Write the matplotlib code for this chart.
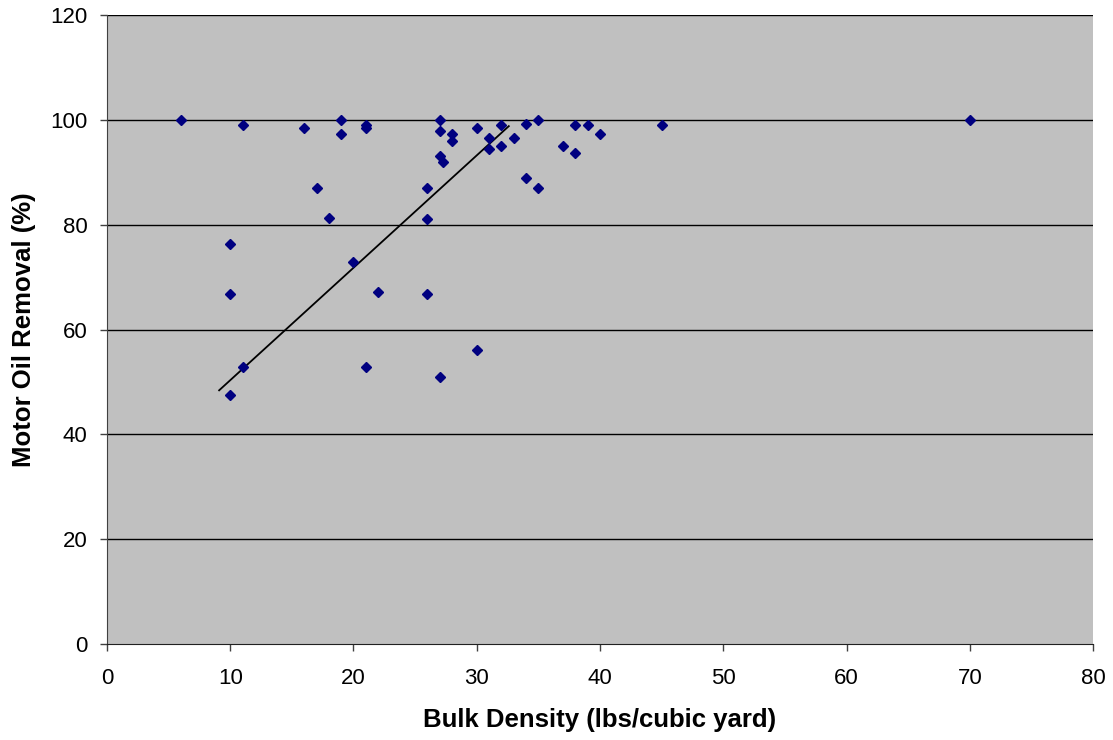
import matplotlib
matplotlib.use("Agg")
import matplotlib.pyplot as plt

# bulk density (lbs/cubic yard) vs motor oil removal (%)
density = [6, 10, 10, 10, 11, 11, 16, 17, 18, 19, 19, 20, 21, 21, 21, 22,
           26, 26, 26, 27, 27, 27, 27.3, 27, 28, 28, 30, 30, 31, 31, 32, 32,
           33, 34, 34, 35, 35, 37, 38, 38, 39, 40, 45, 70]
removal = [100, 76.4, 66.7, 47.5, 99.0, 52.9, 98.4, 87.0, 81.3, 100, 97.3, 72.9, 99.0, 98.4, 52.8, 67.2,
           87.0, 81.0, 66.7, 100, 97.8, 93.1, 92.0, 51.0, 97.3, 96.0, 98.5, 56.1, 96.5, 94.5, 99.0, 95.0,
           96.5, 99.2, 89.0, 100, 87.0, 95.0, 99.0, 93.6, 99.0, 97.3, 99.0, 100]

# trend line end points as drawn
trend_x = [9.1, 32.6]
trend_y = [48.4, 98.8]

x_ticks = list(range(0, 81, 10))
y_ticks = list(range(0, 121, 20))

plt.rcParams["font.family"] = ["Liberation Sans", "DejaVu Sans"]

fig = plt.figure(figsize=(11.13, 7.40), dpi=100)
ax = fig.add_axes([0.0961, 0.1297, 0.886, 0.850])
ax.set_facecolor("#C0C0C0")

for yv in y_ticks[1:]:
    ax.axhline(yv, color="#000000", linewidth=1.0, zorder=1)

ax.plot(trend_x, trend_y, color="black", linewidth=1.3, zorder=2)
ax.plot(density, removal, linestyle="none", marker="D", markersize=4.7,
        color="#000080", zorder=3)

ax.set_xlim(0, 80)
ax.set_ylim(0, 120)
ax.set_xticks(x_ticks)
ax.set_yticks(y_ticks)
ax.tick_params(direction="out", length=5, width=1, color="#404040", labelsize=16)
ax.tick_params(axis="x", pad=12)
ax.tick_params(axis="y", pad=9)

for side in ("top", "right"):
    ax.spines[side].set_visible(False)
ax.spines["left"].set_color("#404040")
ax.spines["bottom"].set_color("#202020")

ax.set_xlabel("Bulk Density (lbs/cubic yard)", fontsize=18.5, fontweight="bold", labelpad=14)
ax.set_ylabel("Motor Oil Removal (%)", fontsize=18.5, fontweight="bold", labelpad=10)

fig.savefig("out.png", dpi=100)
